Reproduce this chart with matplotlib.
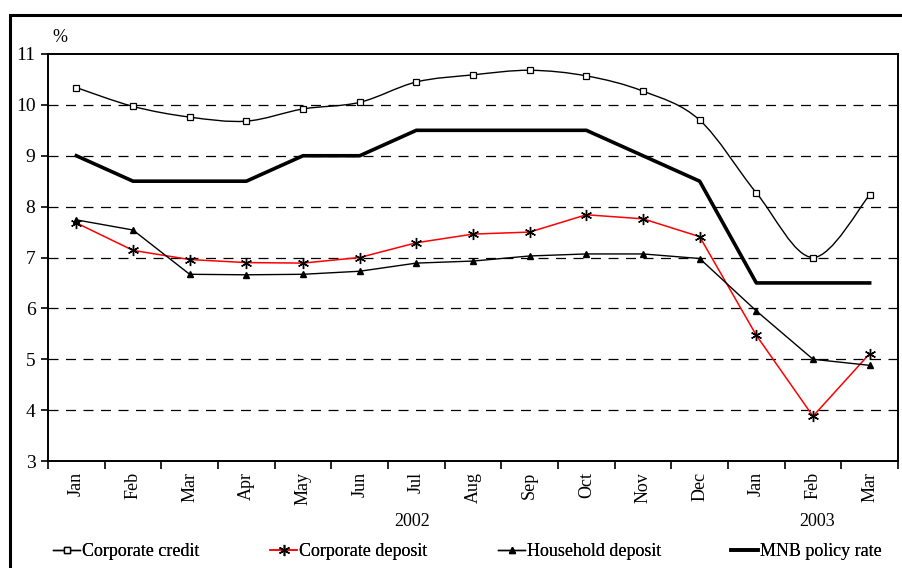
import numpy as np
import matplotlib.pyplot as plt
from matplotlib.path import Path
from matplotlib.patches import PathPatch, Rectangle
from matplotlib.lines import Line2D

plt.rcParams['font.family'] = ['Liberation Serif', 'DejaVu Serif']

# dados
meses = ['Jan', 'Feb', 'Mar', 'Apr', 'May', 'Jun', 'Jul', 'Aug', 'Sep', 'Oct', 'Nov', 'Dec',
         'Jan', 'Feb', 'Mar']
anos = ['2002', '2003']
credito_corp = [10.34, 9.97, 9.76, 9.68, 9.92, 10.05, 10.45, 10.59, 10.68, 10.57, 10.27, 9.70,
                8.27, 7.00, 8.23]
deposito_corp = [7.68, 7.14, 6.96, 6.90, 6.89, 7.00, 7.29, 7.46, 7.50, 7.84, 7.76, 7.41,
                 5.47, 3.88, 5.11]
deposito_fam = [7.74, 7.54, 6.67, 6.66, 6.67, 6.73, 6.89, 6.93, 7.03, 7.07, 7.07, 6.98,
                5.95, 5.00, 4.88]
taxa_mnb = [9.0, 8.5, 8.5, 8.5, 9.0, 9.0, 9.5, 9.5, 9.5, 9.5, 9.0, 8.5, 6.5, 6.5, 6.5]

x = np.arange(len(meses))

fig = plt.figure(figsize=(9.03, 5.68), dpi=100)
ax = fig.add_axes([48 / 903, 1 - 461 / 568, 850 / 903, 407 / 568])

# linha suavizada tipo Excel (Bezier)
def caminho_suave(xs, ys, t=1 / 6):
    xs = np.asarray(xs, float)
    ys = np.asarray(ys, float)
    verts = [(xs[0], ys[0])]
    codes = [Path.MOVETO]
    n = len(xs)
    for i in range(n - 1):
        p0 = i - 1 if i > 0 else i
        p3 = i + 2 if i + 2 < n else i + 1
        c1 = (xs[i] + (xs[i + 1] - xs[p0]) * t, ys[i] + (ys[i + 1] - ys[p0]) * t)
        c2 = (xs[i + 1] - (xs[p3] - xs[i]) * t, ys[i + 1] - (ys[p3] - ys[i]) * t)
        verts += [c1, c2, (xs[i + 1], ys[i + 1])]
        codes += [Path.CURVE4] * 3
    return Path(verts, codes)

ax.add_patch(PathPatch(caminho_suave(x, credito_corp), fill=False, lw=1.0, ec='black', zorder=3))
ax.plot(x, credito_corp, ls='none', marker='s', ms=4, mfc='white', mec='black', mew=0.9, zorder=4)

ax.plot(x, taxa_mnb, color='black', lw=2.6, zorder=3)
ax.plot(x, deposito_corp, color='red', lw=1.1, zorder=3)
ax.plot(x, deposito_corp, ls='none', marker=(6, 2, 0), ms=8, mec='black', mew=1.0, zorder=4)
ax.plot(x, deposito_fam, color='black', lw=1.0, marker='^', ms=4.5, mfc='black', mec='black', zorder=4)

ax.set_xlim(-0.5, len(meses) - 0.5)
ax.set_ylim(3, 11)
ax.set_yticks(range(3, 12))
for v in range(4, 11):
    ax.axhline(v, color='black', lw=0.9, ls=(0, (8, 6)), zorder=1)

ax.set_xticks(x)
ax.set_xticklabels(meses, rotation=90, fontsize=13)
ax.set_xticks(np.arange(-0.5, len(meses), 1), minor=True)
ax.tick_params(axis='x', which='major', length=0, pad=8)
ax.tick_params(axis='x', which='minor', length=6, width=1.2, direction='out')
ax.tick_params(axis='y', labelsize=14, length=5, width=1.2, direction='out', pad=4)
for s in ax.spines.values():
    s.set_linewidth(1.4)

fig.text(52 / 903, 1 - 38 / 568, '%', fontsize=13, ha='left', va='center')
fig.text(412 / 903, 1 - 522 / 568, anos[0], fontsize=13, ha='center', va='center')
fig.text(817 / 903, 1 - 522 / 568, anos[1], fontsize=13, ha='center', va='center')

# moldura
fig.add_artist(Rectangle((10 / 903, -0.1), 1.2, 1 - 15 / 568 + 0.1, transform=fig.transFigure,
                         fill=False, ec='black', lw=2.2))

handles = [
    Line2D([], [], color='black', lw=1.0, marker='s', ms=4, mfc='white', mec='black'),
    Line2D([], [], color='red', lw=1.1, marker=(6, 2, 0), ms=8, mec='black'),
    Line2D([], [], color='black', lw=1.0, marker='^', ms=4.5, mfc='black'),
    Line2D([], [], color='black', lw=2.6),
]
nomes = ['Corporate credit', 'Corporate deposit', 'Household deposit', 'MNB policy rate']
pos_x = [53, 270, 498, 731]
for h, nome, px in zip(handles, nomes, pos_x):
    lg = fig.legend([h], [nome], loc='center left', bbox_to_anchor=(px / 903, 1 - 552 / 568),
                    frameon=False, fontsize=13, handlelength=1.5, handletextpad=0.1,
                    borderaxespad=0, borderpad=0)
    fig.add_artist(lg)

fig.savefig('out.png', dpi=100)
